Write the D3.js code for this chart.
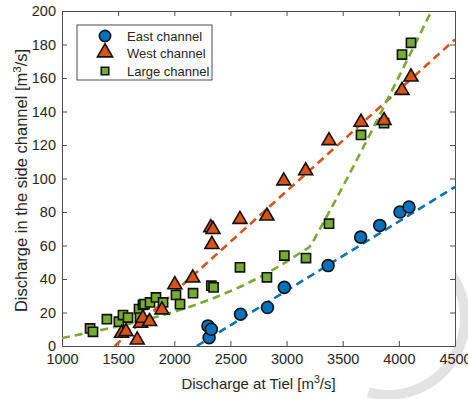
<!DOCTYPE html>
<html>
<head>
<meta charset="utf-8">
<style>
body { margin: 0; background: #fff; }
text { font-family: "Liberation Sans", Arial, sans-serif; fill: #262626; }
.fit { fill: none; stroke-width: 2.6px; stroke-dasharray: 8 5; }
</style>
</head>
<body>
<svg></svg>
<script src="https://cdn.jsdelivr.net/npm/d3@7"></script>
<script>
// discharge at Tiel vs discharge in side channels
var eastQ = [2300, 2310, 2330, 2590, 2830, 2980, 3370, 3660, 3830, 4010, 4090];
var eastS = [12, 5, 10, 19, 23, 35, 48, 65, 72, 80, 83];

var westQ = [1530, 1570, 1670, 1700, 1720, 1780, 1890, 2005, 2165, 2325, 2335, 2345, 2585, 2825, 2975, 3170, 3378, 3663, 3868, 4028, 4108];
var westS = [7, 8, 3, 13, 16, 14, 21, 36, 40, 70, 60, 69, 75, 77, 98, 104, 122, 133, 134, 152, 160];

var largeQ = [1250, 1276, 1400, 1507, 1543, 1588, 1686, 1695, 1721, 1735, 1784, 1837, 1900, 2015, 2051, 2167, 2330, 2350, 2585, 2825, 2980, 3173, 3378, 3663, 3868, 4028, 4108];
var largeS = [10.5, 8.5, 16, 14.5, 18.5, 17, 22, 17, 24.5, 25, 26, 29, 26, 30.5, 25, 31.5, 36, 35, 47, 41, 54, 52.5, 73, 126, 133, 174, 181];

// fitted lines
var eastFitQ = [2200, 4500], eastFitS = [0, 95];
var westFitQ = [1470, 4500], westFitS = [0, 183];
var largeFitQ = [1000, 3140, 3215, 3265, 4290], largeFitS = [4.8, 56.5, 60, 66, 200];

var xTicks = [1000, 1500, 2000, 2500, 3000, 3500, 4000, 4500];
var yTicks = [0, 20, 40, 60, 80, 100, 120, 140, 160, 180, 200];

var colors = { east: "#0072BD", west: "#D95319", large: "#77AC30" };

var width = 468, height = 399;
var margin = { left: 62, right: 13, top: 11, bottom: 53 };
var w = width - margin.left - margin.right,
    h = height - margin.top - margin.bottom;

var svg = d3.select("svg").attr("width", width).attr("height", height);

// faint watermark arc, sits behind the plot box
svg.append("path")
    .attr("d", d3.arc().innerRadius(72).outerRadius(82).startAngle(0.9).endAngle(3.4)())
    .attr("transform", "translate(388,318)")
    .attr("fill", "#e3e3e3");

var x = d3.scaleLinear().domain([1000, 4500]).range([0, w]);
var y = d3.scaleLinear().domain([0, 200]).range([h, 0]);

var g = svg.append("g").attr("transform", "translate(" + margin.left + "," + margin.top + ")");

g.append("rect").attr("width", w).attr("height", h).attr("fill", "#fff");

g.append("defs").append("clipPath").attr("id", "clip")
  .append("rect").attr("width", w).attr("height", h);

// axes, matlab-like inward ticks on all sides
function styleAxis(sel) {
  sel.select(".domain").attr("stroke", "#4d4d4d");
  sel.selectAll(".tick line").attr("stroke", "#4d4d4d");
  sel.selectAll("text").attr("font-size", "14.5px").attr("fill", "#262626")
    .attr("font-family", "Liberation Sans, Arial, sans-serif");
}
g.append("g").attr("transform", "translate(0," + h + ")")
  .call(d3.axisBottom(x).tickValues(xTicks).tickSize(-5).tickSizeOuter(0).tickPadding(8).tickFormat(d3.format("d")))
  .call(styleAxis);
g.append("g")
  .call(d3.axisLeft(y).tickValues(yTicks).tickSize(-5).tickSizeOuter(0).tickPadding(6))
  .call(styleAxis);
g.append("g")
  .call(d3.axisTop(x).tickValues(xTicks).tickSize(-5).tickSizeOuter(0).tickFormat(""))
  .call(styleAxis);
g.append("g").attr("transform", "translate(" + w + ",0)")
  .call(d3.axisRight(y).tickValues(yTicks).tickSize(-5).tickSizeOuter(0).tickFormat(""))
  .call(styleAxis);

// fit lines
var line = d3.line().x(function(d) { return x(d[0]); }).y(function(d) { return y(d[1]); });
var fits = g.append("g").attr("clip-path", "url(#clip)");
fits.append("path").attr("class", "fit").attr("stroke", colors.east)
  .attr("d", line(d3.zip(eastFitQ, eastFitS)));
fits.append("path").attr("class", "fit").attr("stroke", colors.west)
  .attr("d", line(d3.zip(westFitQ, westFitS)));
fits.append("path").attr("class", "fit").attr("stroke", colors.large)
  .attr("stroke-width", 2.2)
  .attr("d", line.curve(d3.curveMonotoneX)(d3.zip(largeFitQ, largeFitS)));

// markers
var sym = {
  east: d3.symbol().type(d3.symbolCircle).size(112),
  west: d3.symbol().type(d3.symbolTriangle).size(84),
  large: d3.symbol().type(d3.symbolSquare).size(84)
};
function drawPoints(qs, ss, key, dy) {
  g.append("g").selectAll("path")
    .data(d3.zip(qs, ss))
    .enter().append("path")
      .attr("d", sym[key])
      .attr("transform", function(d) { return "translate(" + x(d[0]) + "," + (y(d[1]) + dy) + ")"; })
      .attr("fill", colors[key])
      .attr("stroke", "#111")
      .attr("stroke-width", 1.6);
}
drawPoints(largeQ, largeS, "large", 0);
drawPoints(westQ, westS, "west", -1);
drawPoints(eastQ, eastS, "east", 0);

// legend
var legend = g.append("g").attr("transform", "translate(15,14)");
legend.append("rect").attr("width", 135).attr("height", 55)
  .attr("fill", "#fff").attr("stroke", "#4d4d4d").attr("stroke-width", 1);
var legItems = [["East channel", "east"], ["West channel", "west"], ["Large channel", "large"]];
legItems.forEach(function(it, i) {
  var yy = 11 + i * 17.5;
  legend.append("path").attr("d", d3.symbol().type(
      it[1] === "east" ? d3.symbolCircle : it[1] === "west" ? d3.symbolTriangle : d3.symbolSquare)
      .size(it[1] === "large" ? 56 : 100))
    .attr("transform", "translate(28," + (yy + (it[1] === "west" ? -1 : 0)) + ")")
    .attr("fill", colors[it[1]]).attr("stroke", "#111").attr("stroke-width", 1.6);
  legend.append("text").attr("x", 50).attr("y", yy + 4.5)
    .attr("font-size", "13px").text(it[0]);
});

// axis titles
var xt = svg.append("text").attr("x", margin.left + w / 2).attr("y", 389)
  .attr("text-anchor", "middle").attr("font-size", "15px");
xt.append("tspan").text("Discharge at Tiel [m");
xt.append("tspan").attr("dy", -6).attr("font-size", "10.5px").text("3");
xt.append("tspan").attr("dy", 6).text("/s]");

var yt = svg.append("text")
  .attr("transform", "translate(27," + (margin.top + h / 2 + 2) + ") rotate(-90)")
  .attr("text-anchor", "middle").attr("font-size", "16.5px");
yt.append("tspan").text("Discharge in the side channel [m");
yt.append("tspan").attr("dy", -6).attr("font-size", "11.5px").text("3");
yt.append("tspan").attr("dy", 6).text("/s]");
</script>
</body>
</html>
